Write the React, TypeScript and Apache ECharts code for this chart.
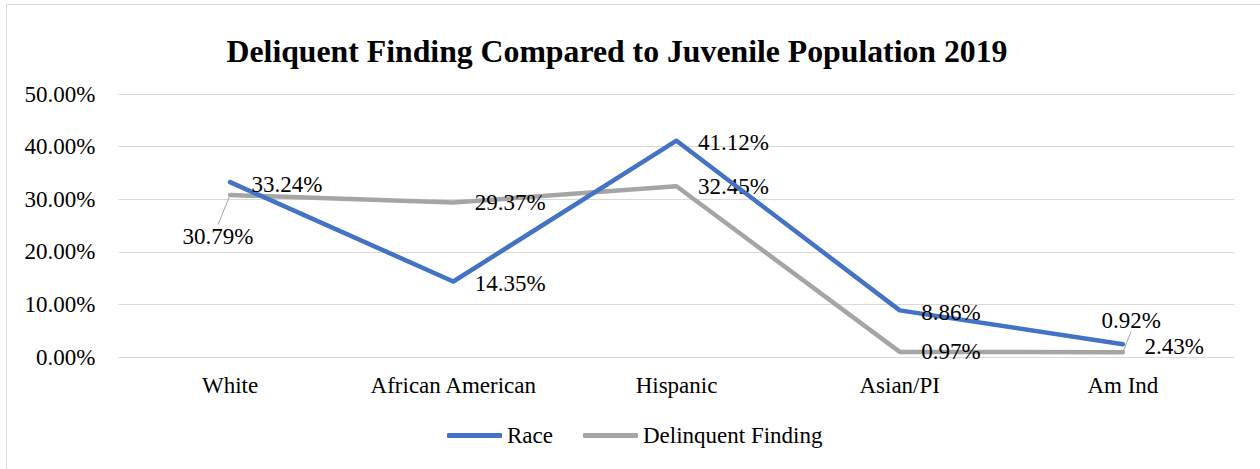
import React, { useEffect, useRef } from "react";
import * as echarts from "echarts";

const categories = ["White", "African American", "Hispanic", "Asian/PI", "Am Ind"];
const raceValues = [33.24, 14.35, 41.12, 8.86, 2.43];
const delinquentValues = [30.79, 29.37, 32.45, 0.97, 0.92];
const seriesNames = ["Race", "Delinquent Finding"];
const titleText = "Deliquent Finding Compared to Juvenile Population 2019";

const FONT = "Times New Roman, Liberation Serif, serif";
const FS = 23;
const BLUE = "#4472C4";
const GRAY = "#A5A5A5";

export default function App() {
  const ref = useRef<HTMLDivElement>(null);
  useEffect(() => {
    document.body.style.margin = "0";
    const chart = echarts.init(ref.current!, null, { renderer: "svg" });
    const pct = (v: number) => `${v.toFixed(2)}%`;
    const baseLabel = {
      show: true,
      position: "right",
      distance: 21,
      offset: [0, 2],
      fontFamily: FONT,
      fontSize: FS,
      color: "#000",
      formatter: (p: any) => pct(p.value),
    };
    chart.setOption({
      animation: false,
      backgroundColor: "#fff",
      graphic: [
        {
          type: "rect",
          shape: { x: 6.5, y: 4.5, width: 1300, height: 500 },
          style: { fill: "none", stroke: "#d9d9d9", lineWidth: 1 },
          silent: true,
        },
      ],
      title: {
        text: titleText,
        left: 612,
        top: 30,
        textAlign: "center",
        textStyle: { fontFamily: FONT, fontSize: 31.75, fontWeight: "bold", color: "#000" },
      },
      legend: {
        left: 447,
        top: 424,
        padding: 0,
        itemWidth: 55,
        itemHeight: 5,
        itemGap: 30,
        icon: "roundRect",
        textStyle: { fontFamily: FONT, fontSize: FS, color: "#000" },
        data: seriesNames,
      },
      grid: { left: 118.5, right: 25.5, top: 94, bottom: 112, containLabel: false },
      xAxis: {
        type: "category",
        data: categories,
        boundaryGap: true,
        axisLine: { show: false },
        axisTick: { show: false },
        axisLabel: { fontFamily: FONT, fontSize: FS, color: "#000", margin: 17 },
      },
      yAxis: {
        type: "value",
        min: 0,
        max: 50,
        interval: 10,
        axisLine: { show: false },
        axisTick: { show: false },
        splitLine: { lineStyle: { color: "#d9d9d9", width: 1 } },
        axisLabel: {
          fontFamily: FONT,
          fontSize: FS,
          color: "#000",
          margin: 23,
          formatter: (v: number) => pct(v),
        },
      },
      series: [
        {
          name: seriesNames[0],
          type: "line",
          data: raceValues,
          symbol: "circle",
          symbolSize: 1,
          lineStyle: { color: BLUE, width: 4.5, cap: "round", join: "round" },
          itemStyle: { color: BLUE },
          label: baseLabel,
          z: 3,
        },
        {
          name: seriesNames[1],
          type: "line",
          data: delinquentValues.map((v, i) =>
            i === 0 || i === delinquentValues.length - 1
              ? { value: v, labelLine: { show: true, lineStyle: { color: GRAY, width: 1 } } }
              : { value: v }
          ),
          symbol: "circle",
          symbolSize: 1,
          lineStyle: { color: GRAY, width: 4.5, cap: "round", join: "round" },
          itemStyle: { color: GRAY },
          label: baseLabel,
          labelLine: { show: false, lineStyle: { color: GRAY, width: 1 } },
          labelLayout: (params: any) => {
            if (params.dataIndex === 0) return { dx: -69, dy: 41 };
            if (params.dataIndex === delinquentValues.length - 1) return { dx: -43, dy: -32 };
            return {};
          },
          z: 2,
        },
      ],
    });
    return () => chart.dispose();
  }, []);
  return <div ref={ref} style={{ width: 1260, height: 469 }} />;
}
